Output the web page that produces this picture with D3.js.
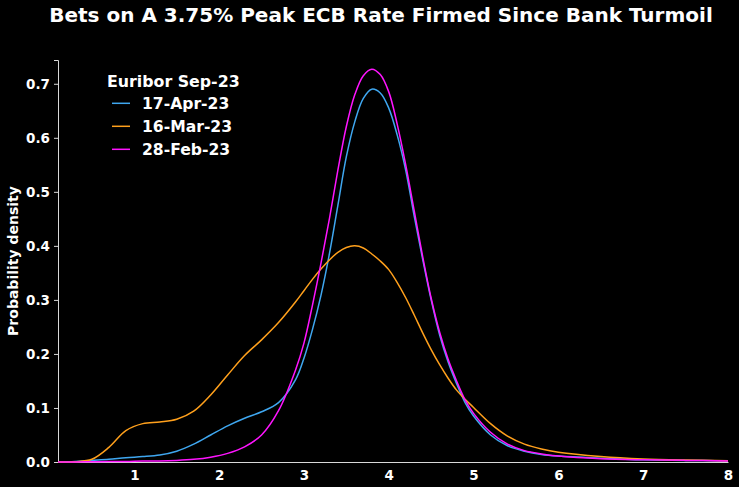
<!DOCTYPE html>
<html><head><meta charset="utf-8">
<script src="https://cdn.jsdelivr.net/npm/d3@7"></script>
<style>html,body{margin:0;padding:0;background:#000;}svg{display:block;}</style>
</head><body>
<script>
const title = "Bets on A 3.75% Peak ECB Rate Firmed Since Bank Turmoil";
const yLabel = "Probability density";
const legendTitle = "Euribor Sep-23";
const seriesNames = ["17-Apr-23", "16-Mar-23", "28-Feb-23"];
const seriesColors = ["#3fa7f0", "#ffa01c", "#ff14ff"];
const xTicks = [1, 2, 3, 4, 5, 6, 7, 8];
const yTicks = [0.0, 0.1, 0.2, 0.3, 0.4, 0.5, 0.6, 0.7];

const rates = [0.1,0.3,0.5,0.7,0.9,1.1,1.3,1.5,1.7,1.9,2.1,2.3,2.5,2.7,2.9,3.0,3.1,3.2,3.3,3.4,3.5,3.6,3.7,3.8,3.9,4.0,4.1,4.2,4.3,4.4,4.5,4.6,4.7,4.8,4.9,5.0,5.2,5.4,5.6,5.8,6.0,6.5,7.0,7.5,8.0];
const apr17 = [0,0.001,0.003,0.005,0.008,0.010,0.013,0.020,0.033,0.050,0.067,0.081,0.093,0.110,0.152,0.192,0.245,0.308,0.385,0.475,0.565,0.630,0.673,0.690,0.683,0.655,0.605,0.540,0.455,0.375,0.300,0.235,0.185,0.145,0.110,0.085,0.050,0.030,0.020,0.014,0.011,0.007,0.004,0.003,0.002];
const mar16 = [0,0.0005,0.005,0.027,0.058,0.071,0.074,0.079,0.094,0.124,0.161,0.197,0.226,0.258,0.296,0.317,0.338,0.357,0.374,0.388,0.397,0.400,0.396,0.385,0.372,0.356,0.332,0.304,0.272,0.239,0.208,0.180,0.155,0.133,0.116,0.101,0.071,0.048,0.033,0.024,0.018,0.010,0.0055,0.0035,0.0025];
const feb28 = [0,0,0.0005,0.001,0.001,0.002,0.002,0.003,0.005,0.009,0.016,0.028,0.050,0.095,0.170,0.220,0.290,0.367,0.450,0.540,0.621,0.680,0.715,0.727,0.717,0.685,0.625,0.550,0.465,0.380,0.303,0.240,0.190,0.150,0.115,0.090,0.055,0.033,0.021,0.015,0.011,0.006,0.004,0.003,0.002];
const seriesValues = [apr17, mar16, feb28];

const W = 739, H = 487;
const m = {left: 58, right: 11, top: 60, bottom: 25};
const svg = d3.select("body").append("svg").attr("width", W).attr("height", H)
  .style("background", "#000");
const font = "'DejaVu Sans', sans-serif";

const x = d3.scaleLinear().domain([0.1, 8]).range([m.left, W - m.right]);
const y = d3.scaleLinear().domain([0, 0.744]).range([H - m.bottom, m.top]);

svg.append("text").attr("x", 381).attr("y", 22).attr("text-anchor", "middle")
  .attr("fill", "#fff").attr("font-family", font).attr("font-weight", "bold")
  .attr("font-size", 20).text(title);

const xAxis = svg.append("g").attr("transform", `translate(0,${H - m.bottom})`)
  .call(d3.axisBottom(x).tickValues(xTicks).tickFormat(d3.format("d")).tickSize(0).tickPadding(8));
const yAxis = svg.append("g").attr("transform", `translate(${m.left},0)`)
  .call(d3.axisLeft(y).tickValues(yTicks).tickFormat(d3.format(".1f")).tickSize(4).tickPadding(4));
[xAxis, yAxis].forEach(a => {
  a.select(".domain").attr("stroke", "#d8d8d8").attr("stroke-width", 1);
  a.selectAll(".tick line").attr("stroke", "#d8d8d8");
  a.selectAll("text").attr("fill", "#fff").attr("font-family", font)
    .attr("font-weight", "bold").attr("font-size", 13.5);
});

svg.append("text").attr("transform", "translate(18,261) rotate(-90)")
  .attr("text-anchor", "middle").attr("fill", "#fff").attr("font-family", font)
  .attr("font-weight", "bold").attr("font-size", 14).text(yLabel);

const line = d3.line().x(d => x(d[0])).y(d => y(Math.max(0, d[1]))).curve(d3.curveCatmullRom.alpha(0.5));
seriesValues.forEach((vals, i) => {
  svg.append("path").datum(rates.map((r, j) => [r, vals[j]]))
    .attr("d", line)
    .attr("fill", "none").attr("stroke", seriesColors[i]).attr("stroke-width", 1.5);
});

const lg = svg.append("g");
lg.append("text").attr("x", 107).attr("y", 86.5).attr("fill", "#fff").attr("font-family", font)
  .attr("font-weight", "bold").attr("font-size", 15.8).text(legendTitle);
seriesNames.forEach((n, i) => {
  const yy = 103.3 + i * 23;
  lg.append("line").attr("x1", 112).attr("x2", 130).attr("y1", yy).attr("y2", yy)
    .attr("stroke", seriesColors[i]).attr("stroke-width", 1.5);
  lg.append("text").attr("x", 142).attr("y", yy + 5.7).attr("fill", "#fff").attr("font-family", font)
    .attr("font-weight", "bold").attr("font-size", 15.6).text(n);
});
</script>
</body></html>
